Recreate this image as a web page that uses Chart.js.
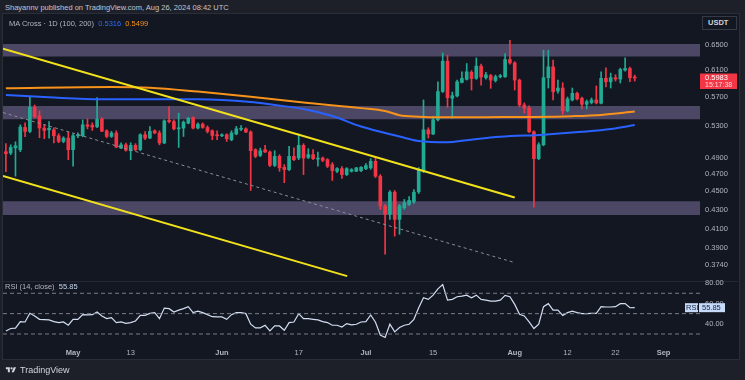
<!DOCTYPE html>
<html><head><meta charset="utf-8">
<script src="https://cdn.jsdelivr.net/npm/chart.js@4.4.1/dist/chart.umd.min.js"></script>
<style>
html,body{margin:0;padding:0;}
body{width:745px;height:380px;background:#1e2029;position:relative;overflow:hidden;font-family:"Liberation Sans",Arial,sans-serif;}
.abs{position:absolute;white-space:nowrap;}
#frame{left:2px;top:13px;width:736px;height:345px;background:#131722;border:1px solid #2a2e39;}
#top{left:5px;top:2px;font-size:7.5px;line-height:11px;color:#c3c6ce;}
#maHdr{left:9px;top:18px;font-size:7.5px;line-height:11px;color:#b2b5be;}
#rsiHdr{left:5px;top:281px;font-size:7.5px;line-height:11px;color:#b2b5be;}
#usdt{left:702px;top:16px;width:28px;height:12px;border:1px solid #363a45;background:#131722;color:#d1d4dc;font-size:7.5px;line-height:12px;padding-left:5px;font-weight:bold;}
#sep{left:3px;top:281px;width:735px;height:1px;background:#242833;}
#logo{left:5px;top:365px;font-size:9px;line-height:10px;color:#d1d4dc;display:flex;align-items:center;gap:3px;}
canvas{position:absolute;}
</style></head><body>
<div id="frame" class="abs"></div>
<div id="top" class="abs">Shayannv published on TradingView.com, Aug 26, 2024 08:42 UTC</div>
<div id="sep" class="abs"></div>
<canvas id="main" width="745" height="268" style="left:0;top:14px;width:745px;height:268px"></canvas>
<canvas id="rsi" width="745" height="84" style="left:0;top:276px;width:745px;height:84px"></canvas>
<div id="maHdr" class="abs">MA Cross · 1D (100, 200)&nbsp; <span style="color:#2f6bff">0.5316</span>&nbsp; <span style="color:#f7931a">0.5499</span></div>
<div id="rsiHdr" class="abs">RSI (14, close)&nbsp; <span style="color:#c5d5ef">55.85</span></div>
<div id="usdt" class="abs">USDT</div>
<div id="logo" class="abs"><svg width="12" height="8" viewBox="0 0 36 28"><path d="M14 22H7V11H0V4h14v18z" fill="#d1d4dc"/><circle cx="20" cy="8" r="4" fill="#d1d4dc"/><path d="M28 22h-8l7.5-18h8L28 22z" fill="#d1d4dc"/></svg><span>TradingView</span></div>
<script>
// ---- Data (daily candles from Apr 17, 2024; index = day number) ----
const OPEN=[0.4972,0.4956,0.5021,0.4997,0.5284,0.5232,0.5559,0.5439,0.5276,0.5253,
0.5253,0.5175,0.5102,0.5145,0.4997,0.5175,0.5175,0.5319,0.5315,0.5293,
0.5398,0.5240,0.5166,0.5211,0.5017,0.5059,0.4984,0.5051,0.4997,0.5188,
0.5145,0.5240,0.5211,0.5082,0.5379,0.5363,0.5266,0.5276,0.5342,0.5416,
0.5276,0.5328,0.5284,0.5240,0.5188,0.5175,0.5188,0.5123,0.5198,0.5260,
0.5266,0.5224,0.4997,0.4926,0.4997,0.4968,0.4805,0.4914,0.4781,0.4753,
0.4914,0.4894,0.5051,0.4902,0.4935,0.4880,0.4894,0.4873,0.4813,0.4733,
0.4765,0.4694,0.4733,0.4733,0.4741,0.4765,0.4774,0.4853,0.4675,0.4337,
0.4248,0.4491,0.4195,0.4319,0.4355,0.4384,0.4495,0.4733,0.5253,0.5198,
0.5386,0.5783,0.6241,0.5686,0.5719,0.5918,0.5963,0.6070,0.5978,0.6164,
0.5987,0.6020,0.5945,0.6002,0.6002,0.6268,0.6215,0.5952,0.5591,0.5550,
0.5228,0.4886,0.5059,0.5987,0.6153,0.5791,0.5834,0.5509,0.5662,0.5757,
0.5686,0.5601,0.5624,0.5662,0.5615,0.5978,0.5927,0.5987,0.5967,0.6103,
0.6128,0.5990];
const HIGH=[0.5073,0.5059,0.5097,0.5319,0.5346,0.5709,0.5591,0.5509,0.5319,0.5363,
0.5280,0.5201,0.5162,0.5224,0.5201,0.5214,0.5386,0.5399,0.5346,0.5697,
0.5412,0.5253,0.5232,0.5240,0.5085,0.5082,0.5085,0.5073,0.5201,0.5228,
0.5297,0.5253,0.5240,0.5386,0.5568,0.5386,0.5476,0.5372,0.5419,0.5426,
0.5346,0.5346,0.5306,0.5253,0.5240,0.5201,0.5201,0.5240,0.5297,0.5310,
0.5280,0.5240,0.5009,0.5017,0.5051,0.4984,0.4984,0.4935,0.4813,0.5038,
0.5021,0.5198,0.5073,0.5009,0.4997,0.4968,0.4906,0.4886,0.4837,0.4777,
0.4789,0.4777,0.4765,0.4781,0.4789,0.4825,0.4886,0.4894,0.4694,0.4355,
0.4510,0.4510,0.4355,0.4410,0.4443,0.4521,0.4777,0.5662,0.5280,0.5429,
0.5927,0.6371,0.6336,0.5776,0.5952,0.6077,0.6205,0.6095,0.6293,0.6195,
0.6070,0.6038,0.6027,0.6038,0.6363,0.6578,0.6233,0.5967,0.5620,0.5578,
0.5240,0.5085,0.6415,0.6415,0.6257,0.5952,0.5913,0.5704,0.5834,0.5776,
0.5704,0.5662,0.5690,0.5864,0.6077,0.6137,0.6057,0.6034,0.6133,0.6293,
0.6149,0.6027];
const LOW=[0.4730,0.4935,0.4675,0.4972,0.5162,0.5214,0.5412,0.5149,0.5136,0.5145,
0.5082,0.5085,0.5085,0.4873,0.4793,0.5149,0.5162,0.5266,0.5244,0.5280,
0.5228,0.5149,0.5153,0.5021,0.5009,0.4978,0.4873,0.4984,0.4984,0.5123,
0.5136,0.5201,0.5059,0.5073,0.5346,0.5253,0.5025,0.5166,0.5333,0.5266,
0.5266,0.5273,0.5211,0.5123,0.5123,0.5162,0.5102,0.5110,0.5188,0.5240,
0.5214,0.4510,0.4898,0.4910,0.4959,0.4789,0.4789,0.4733,0.4599,0.4741,
0.4861,0.4873,0.4694,0.4886,0.4873,0.4793,0.4849,0.4777,0.4625,0.4718,
0.4648,0.4682,0.4724,0.4730,0.4730,0.4753,0.4757,0.4660,0.4301,0.3844,
0.4195,0.4021,0.4041,0.4301,0.4344,0.4366,0.4476,0.4718,0.5145,0.5188,
0.5372,0.5769,0.5557,0.5408,0.5704,0.5908,0.5952,0.5805,0.5963,0.5878,
0.5967,0.5830,0.5923,0.5983,0.5990,0.6195,0.5805,0.5564,0.5480,0.5214,
0.4326,0.4873,0.5046,0.5834,0.5662,0.5761,0.5462,0.5495,0.5648,0.5662,
0.5536,0.5536,0.5606,0.5606,0.5606,0.5849,0.5834,0.5937,0.5908,0.6088,
0.5930,0.5937];
const CLOSE=[0.4947,0.5025,0.5046,0.5289,0.5232,0.5559,0.5429,0.5276,0.5244,0.5273,
0.5175,0.5102,0.5145,0.4997,0.5175,0.5182,0.5319,0.5300,0.5289,0.5394,
0.5234,0.5166,0.5211,0.5030,0.5059,0.4991,0.5051,0.4997,0.5188,0.5145,
0.5232,0.5211,0.5082,0.5372,0.5363,0.5266,0.5280,0.5355,0.5408,0.5276,
0.5328,0.5284,0.5232,0.5179,0.5175,0.5188,0.5136,0.5211,0.5266,0.5273,
0.5224,0.4984,0.4914,0.4984,0.4968,0.4805,0.4914,0.4774,0.4753,0.4914,
0.4873,0.5051,0.4894,0.4935,0.4886,0.4890,0.4865,0.4793,0.4741,0.4765,
0.4694,0.4765,0.4753,0.4774,0.4781,0.4801,0.4853,0.4675,0.4337,0.4248,
0.4491,0.4195,0.4337,0.4374,0.4399,0.4491,0.4753,0.5253,0.5198,0.5386,
0.5783,0.6241,0.5694,0.5723,0.5927,0.5978,0.6077,0.5975,0.6164,0.5998,
0.6031,0.5952,0.6002,0.6017,0.6268,0.6215,0.5952,0.5591,0.5546,0.5228,
0.4886,0.5059,0.5987,0.6153,0.5780,0.5834,0.5509,0.5676,0.5757,0.5676,
0.5601,0.5638,0.5662,0.5620,0.5978,0.5927,0.5987,0.5967,0.6113,0.6128,
0.5987,0.5983];
const RSI=[33.0,35.4,35.7,42.2,41.8,50.3,47.7,44.4,44.1,43.8,
42.2,41.2,41.8,38.6,44.4,44.4,49.0,48.7,49.0,51.6,
47.7,45.1,46.1,41.2,41.8,40.5,41.2,42.8,48.3,48.3,
50.3,51.0,45.1,55.5,54.9,51.6,53.5,54.9,56.8,51.0,
52.5,51.0,49.0,47.0,46.8,46.8,44.4,49.0,51.0,51.0,
50.0,39.6,36.0,36.0,38.6,33.0,37.9,37.9,33.7,41.2,
41.8,50.0,45.1,45.1,44.4,43.8,42.2,41.2,38.6,38.6,
36.9,40.2,38.9,39.6,41.8,42.2,48.7,41.5,29.0,26.6,
39.6,32.1,36.3,38.6,39.6,44.4,55.8,65.6,64.0,68.2,
74.4,78.6,63.3,64.0,66.6,67.2,68.2,65.6,68.2,64.0,
63.3,62.3,62.3,63.3,67.9,66.6,59.1,49.3,47.7,41.8,
35.4,39.6,56.8,59.8,53.5,53.5,48.3,51.0,52.5,51.0,
50.0,50.0,50.3,50.3,56.8,56.5,56.5,56.8,59.8,59.8,
55.8,55.85];
const MA100_DAY=[0,9,20,30,40,51,56,62,68,74,82,86,92,96,103,112,120,126,131];
const MA100=[0.5733,0.5700,0.5672,0.5672,0.5672,0.5633,0.5590,0.5536,0.5439,0.5296,0.5166,0.5108,0.5092,0.5118,0.5162,0.5189,0.5226,0.5263,0.5316];
const MA200_DAY=[0,22,30,40,51,62,74,79,82,86,90,100,110,118,124,131];
const MA200=[0.5830,0.5849,0.5838,0.5782,0.5709,0.5627,0.5547,0.5507,0.5450,0.5429,0.5420,0.5423,0.5426,0.5436,0.5453,0.5499];
const ZONE_TOP=[0.6515,0.5578,0.4391];
const ZONE_BOTTOM=[0.6315,0.5394,0.4241];
const YELLOW_LINES=[[[-0.6,0.6441],[106,0.4431]],[[-0.6,0.4678],[71.1,0.3637]]];
const DASHED_LINE=[[-0.6,0.5485],[105.7,0.3767]];
const PRICE_TICKS=[0.65,0.61,0.57,0.53,0.49,0.47,0.45,0.43,0.41,0.39,0.374];
const RSI_TICKS=[80,60,40];
const RSI_LEVELS=[70,50,30];
const X_TICK_DAYS=[14,26,45,61,75,89,106,117,127,137];
const X_TICK_LABELS=['May','13','Jun','17','Jul','15','Aug','12','22','Sep'];
const COUNTDOWN='15:17:38';

// ---- Chart ----
Chart.defaults.font.family='"Liberation Sans", Arial, sans-serif';
const X_MIN=-0.6, X_MAX=144.6;
const UP='#22ab94', DOWN='#f23645';
const DAYS=OPEN.map((_,i)=>i);
const COLORS=DAYS.map(i=>CLOSE[i]>=OPEN[i]?UP:DOWN);
const noPad=s=>{s.paddingTop=0;s.paddingBottom=0;s.paddingLeft=0;s.paddingRight=0;};

const tagPlugin={
  id:'tagPlugin',
  afterDraw(chart){
    const o=chart.options.plugins.tagPlugin; if(!o||!o.kind) return;
    const {ctx,chartArea}=chart; const y=chart.scales.y.getPixelForValue(o.value);
    ctx.save();
    ctx.textBaseline='middle';
    if(o.kind==='price'){
      ctx.fillStyle=o.bg; ctx.fillRect(chartArea.right,y-4.5,37,15.5);
      ctx.fillStyle='#ffffff'; ctx.font='7.5px "Liberation Sans", Arial, sans-serif';
      ctx.fillText(o.value.toFixed(4),chartArea.right+5,y);
      ctx.fillStyle='#ffd9dc'; ctx.font='7px "Liberation Sans", Arial, sans-serif';
      ctx.fillText(o.sub,chartArea.right+5,y+7.5);
    } else {
      ctx.fillStyle='#c6dbfa';
      ctx.fillRect(chartArea.right-15,y-4.5,13,9);
      ctx.fillRect(chartArea.right-1,y-4.5,26,9);
      ctx.fillStyle='#1a2436'; ctx.font='7.5px "Liberation Sans", Arial, sans-serif';
      ctx.fillText('RSI',chartArea.right-14,y+0.5);
      ctx.fillText(o.value.toFixed(2),chartArea.right+2,y+0.5);
    }
    ctx.restore();
  }
};

const zoneSets=ZONE_TOP.map((t,k)=>({type:'line',data:[{x:X_MIN,y:t},{x:X_MAX,y:t}],borderWidth:0,pointRadius:0,
  fill:{value:ZONE_BOTTOM[k]},backgroundColor:'#4d4766',order:10}));
const yellowSets=YELLOW_LINES.map(l=>({type:'line',data:l.map(p=>({x:p[0],y:p[1]})),borderColor:'#f2e21c',borderWidth:2,pointRadius:0,order:1}));

new Chart(document.getElementById('main'),{
  type:'bar',
  data:{datasets:[
    ...zoneSets,
    {type:'bar',data:DAYS.map(i=>({x:i,y:[LOW[i],HIGH[i]]})),backgroundColor:COLORS,barThickness:1,grouped:false,order:6},
    {type:'bar',data:DAYS.map(i=>({x:i,y:[OPEN[i],CLOSE[i]]})),backgroundColor:COLORS,barThickness:3,minBarLength:1,grouped:false,order:5},
    {type:'line',data:MA200_DAY.map((d,i)=>({x:d,y:MA200[i]})),borderColor:'#f7931a',borderWidth:2,pointRadius:0,cubicInterpolationMode:'monotone',order:3},
    {type:'line',data:MA100_DAY.map((d,i)=>({x:d,y:MA100[i]})),borderColor:'#2962ff',borderWidth:2,pointRadius:0,cubicInterpolationMode:'monotone',order:3},
    {type:'line',data:DASHED_LINE.map(p=>({x:p[0],y:p[1]})),borderColor:'#8a8d96',borderWidth:1,borderDash:[3,3],pointRadius:0,order:2},
    ...yellowSets
  ]},
  options:{
    responsive:false,animation:false,devicePixelRatio:1,events:[],
    layout:{padding:{left:3,right:7,top:1,bottom:1}},
    plugins:{legend:{display:false},tooltip:{enabled:false},
      tagPlugin:{kind:'price',value:CLOSE[CLOSE.length-1],bg:CLOSE[CLOSE.length-1]>=OPEN[OPEN.length-1]?UP:DOWN,sub:COUNTDOWN}},
    scales:{
      x:{type:'linear',min:X_MIN,max:X_MAX,display:false,offset:false,grid:{offset:false}},
      y:{type:'logarithmic',position:'right',min:0.3593,max:0.7009,
        grid:{display:false,drawTicks:false},border:{display:false},
        afterBuildTicks:s=>{s.ticks=PRICE_TICKS.map(v=>({value:v}));},
        afterFit:s=>{s.width=38;noPad(s);},
        ticks:{color:'#b2b5be',font:{size:7.5},padding:5,callback:v=>Number(v).toFixed(4)}}
    }
  },
  plugins:[tagPlugin]
});

new Chart(document.getElementById('rsi'),{
  type:'line',
  data:{datasets:[
    ...RSI_LEVELS.map(l=>({data:[{x:X_MIN,y:l},{x:X_MAX,y:l}],borderColor:'#7b7e88',borderWidth:1,borderDash:[4,3],pointRadius:0})),
    {data:DAYS.map(i=>({x:i,y:RSI[i]})),borderColor:'#d3def2',borderWidth:1.2,pointRadius:0}
  ]},
  options:{
    responsive:false,animation:false,devicePixelRatio:1,events:[],
    layout:{padding:{left:3,right:7,top:7,bottom:0}},
    plugins:{legend:{display:false},tooltip:{enabled:false},tagPlugin:{kind:'rsi',value:RSI[RSI.length-1]}},
    scales:{
      x:{type:'linear',min:X_MIN,max:X_MAX,offset:false,grid:{display:false,drawTicks:false},border:{display:false},
        afterBuildTicks:s=>{s.ticks=X_TICK_DAYS.map(v=>({value:v}));},
        afterFit:s=>{s.height=17;noPad(s);},
        ticks:{color:'#b2b5be',padding:5,autoSkip:false,maxRotation:0,
          font:c=>({size:7.5,weight:/^[A-Z]/.test(X_TICK_LABELS[c.index]||'')?'bold':'normal'}),
          callback:(v,i)=>X_TICK_LABELS[i]}},
      y:{position:'right',min:21.15,max:80.1,grid:{display:false,drawTicks:false},border:{display:false},
        afterBuildTicks:s=>{s.ticks=RSI_TICKS.map(v=>({value:v}));},
        afterFit:s=>{s.width=38;noPad(s);},
        ticks:{color:'#b2b5be',font:{size:7.5},padding:5,callback:v=>Number(v).toFixed(2)}}
    }
  },
  plugins:[tagPlugin]
});
</script>
</body></html>
